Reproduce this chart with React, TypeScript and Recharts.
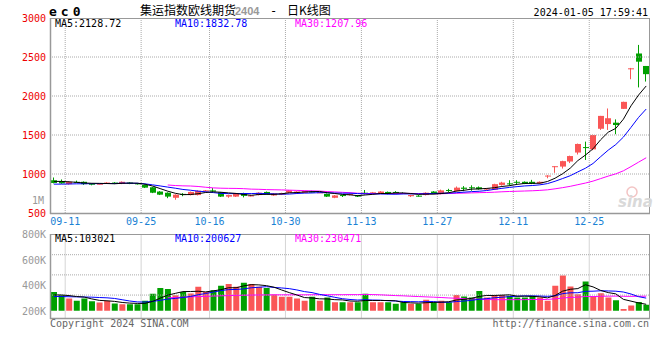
import React from 'react';
import { ComposedChart, Bar, Line, XAxis, YAxis, ReferenceLine, Cell } from 'recharts';

const dates = [
  '09-08', '09-11', '09-12', '09-13', '09-14', '09-15', '09-18', '09-19', '09-20', '09-21',
  '09-22', '09-25', '09-26', '09-27', '09-28', '10-09', '10-10', '10-11', '10-12', '10-13',
  '10-16', '10-17', '10-18', '10-19', '10-20', '10-23', '10-24', '10-25', '10-26', '10-27',
  '10-30', '10-31', '11-01', '11-02', '11-03', '11-06', '11-07', '11-08', '11-09', '11-10',
  '11-13', '11-14', '11-15', '11-16', '11-17', '11-20', '11-21', '11-22', '11-23', '11-24',
  '11-27', '11-28', '11-29', '11-30', '12-01', '12-04', '12-05', '12-06', '12-07', '12-08',
  '12-11', '12-12', '12-13', '12-14', '12-15', '12-18', '12-19', '12-20', '12-21', '12-22',
  '12-25', '12-26', '12-27', '12-28', '12-29', '01-02', '01-03', '01-04', '01-05',
];

const opens = [
  920, 910, 870, 900, 900, 875, 868, 880, 890, 875,
  890, 880, 860, 830, 775, 760, 695, 745, 730, 730,
  780, 790, 765, 710, 710, 755, 718, 730, 770, 725,
  735, 760, 755, 760, 775, 762, 745, 695, 730, 730,
  725, 760, 755, 750, 770, 770, 757, 715, 722, 730,
  775, 745, 795, 780, 825, 830, 830, 800, 800, 860,
  880, 900, 900, 900, 880, 975, 1090, 1095, 1160, 1275,
  1345, 1316, 1580, 1640, 1658, 1835, 2345, 2545, 2385,
];

const highs = [
  955, 930, 905, 915, 905, 880, 882, 895, 895, 905,
  895, 885, 865, 835, 780, 765, 740, 755, 775, 790,
  795, 820, 770, 735, 755, 760, 732, 765, 775, 755,
  760, 795, 780, 785, 785, 775, 750, 730, 735, 750,
  730, 795, 770, 780, 775, 780, 765, 735, 730, 765,
  780, 800, 810, 840, 845, 855, 840, 820, 875, 900,
  920, 920, 905, 925, 905, 985, 1100, 1170, 1235, 1390,
  1415, 1505, 1745, 1840, 1700, 1927, 2360, 2655, 2385,
];

const lows = [
  880, 875, 865, 885, 860, 855, 865, 875, 870, 870,
  870, 865, 820, 755, 730, 690, 670, 715, 725, 725,
  775, 770, 705, 695, 705, 700, 712, 725, 735, 720,
  730, 755, 750, 755, 765, 755, 705, 690, 705, 725,
  705, 740, 750, 745, 740, 740, 750, 705, 710, 725,
  740, 740, 765, 775, 780, 785, 800, 795, 795, 850,
  850, 870, 870, 870, 875, 945, 1015, 1070, 1140, 1250,
  1180, 1305, 1565, 1565, 1510, 1833, 2215, 2110, 2185,
];

const closes = [
  885, 880, 900, 890, 870, 865, 875, 890, 875, 900,
  875, 870, 825, 760, 735, 710, 735, 735, 770, 785,
  790, 775, 710, 730, 750, 720, 725, 760, 740, 750,
  755, 790, 775, 780, 770, 765, 710, 725, 720, 745,
  710, 755, 765, 775, 745, 745, 755, 730, 720, 760,
  745, 790, 785, 825, 810, 820, 805, 815, 870, 890,
  870, 890, 875, 875, 900, 980, 1100, 1165, 1230, 1385,
  1335, 1500, 1745, 1715, 1628, 1925, 2355, 2440, 2280,
];

const ma5 = [
  905, 905, 900, 893, 885, 881, 880, 878, 875, 881,
  883, 882, 869, 846, 813, 780, 753, 735, 737, 747,
  763, 771, 766, 758, 751, 737, 727, 737, 739, 739,
  746, 759, 762, 770, 774, 776, 760, 750, 738, 733,
  722, 731, 739, 750, 750, 757, 757, 750, 739, 742,
  742, 749, 760, 781, 791, 806, 809, 815, 824, 840,
  850, 867, 879, 880, 882, 904, 946, 1004, 1075, 1172,
  1243, 1323, 1439, 1536, 1585, 1703, 1874, 2013, 2128.72,
];

const ma10 = [
  870, 870, 872, 874, 875, 876, 877, 878, 878, 883,
  882, 881, 874, 861, 847, 832, 818, 802, 792, 780,
  772, 762, 751, 748, 749, 750, 749, 752, 749, 745,
  742, 743, 750, 755, 757, 761, 760, 756, 754, 754,
  749, 746, 745, 744, 742, 740, 744, 745, 745, 746,
  750, 753, 755, 760, 767, 774, 779, 788, 803, 816,
  828, 838, 847, 852, 861, 877, 907, 942, 978, 1027,
  1074, 1135, 1222, 1306, 1378, 1473, 1598, 1726, 1832.78,
];

const ma30 = [
  null, null, null, null, null, null, null, null, null, null,
  null, null, null, null, null, 859, 852, 848, 846, 840,
  830, 822, 818, 816, 815, 812, 806, 804, 800, 798,
  796, 793, 790, 787, 784, 781, 775, 770, 765, 760,
  754, 750, 748, 749, 749, 750, 751, 751, 749, 748,
  747, 747, 750, 753, 755, 758, 761, 763, 767, 772,
  776, 779, 782, 785, 790, 797, 810, 825, 842, 863,
  884, 909, 941, 973, 1002, 1041, 1095, 1152, 1207.96,
];

const volumes = [
  298000, 246000, 193000, 157000, 193000, 152000, 130000, 157000, 115000, 105000,
  105000, 105000, 157000, 267000, 361000, 345000, 246000, 298000, 272000, 377000,
  298000, 325000, 393000, 424000, 377000, 440000, 424000, 377000, 361000, 256000,
  220000, 220000, 193000, 157000, 220000, 157000, 209000, 137000, 137000, 137000,
  137000, 267000, 137000, 137000, 137000, 110000, 137000, 110000, 110000, 173000,
  137000, 157000, 137000, 251000, 225000, 209000, 314000, 209000, 251000, 251000,
  236000, 209000, 209000, 236000, 209000, 157000, 393000, 554000, 382000, 262000,
  460000, 225000, 278000, 209000, 165000, 28000, 85000, 140000, 97000,
];

const volMa5 = [
  250000, 250000, 240000, 225000, 217000, 188000, 165000, 158000, 149000, 132000,
  122000, 117000, 117000, 148000, 199000, 247000, 275000, 303000, 304000, 308000,
  298000, 314000, 333000, 363000, 363000, 392000, 412000, 408000, 396000, 372000,
  328000, 287000, 250000, 209000, 202000, 189000, 187000, 176000, 172000, 155000,
  151000, 163000, 163000, 163000, 163000, 158000, 132000, 126000, 121000, 128000,
  133000, 137000, 143000, 171000, 181000, 196000, 227000, 242000, 242000, 247000,
  252000, 231000, 231000, 228000, 220000, 204000, 241000, 310000, 339000, 350000,
  410000, 377000, 321000, 287000, 267000, 181000, 153000, 125000, 103021,
];

const volMa10 = [
  225000, 225000, 222000, 220000, 218000, 215000, 210000, 205000, 195000, 175000,
  155000, 141000, 138000, 149000, 165000, 185000, 196000, 210000, 226000, 253000,
  273000, 295000, 318000, 334000, 336000, 345000, 363000, 371000, 380000, 368000,
  360000, 349000, 329000, 303000, 287000, 259000, 237000, 213000, 191000, 179000,
  170000, 175000, 170000, 168000, 159000, 155000, 147000, 145000, 142000, 146000,
  146000, 135000, 135000, 146000, 155000, 165000, 182000, 192000, 206000, 214000,
  224000, 229000, 236000, 235000, 233000, 228000, 236000, 271000, 284000, 285000,
  307000, 309000, 316000, 313000, 309000, 296000, 265000, 223000, 200627,
];

const volMa30 = [
  null, null, null, null, null, null, null, null, null, null,
  null, null, null, null, null, 205000, 210000, 215000, 220000, 224000,
  228000, 232000, 236000, 240000, 243000, 246000, 248000, 250000, 251000, 252000,
  252000, 252000, 252000, 252000, 253000, 253000, 254000, 254000, 254000, 255000,
  255000, 258000, 256000, 252000, 246000, 240000, 236000, 230000, 225000, 220000,
  215000, 210000, 203000, 198000, 194000, 188000, 184000, 179000, 176000, 175000,
  176000, 176000, 176000, 179000, 179000, 180000, 189000, 202000, 211000, 215000,
  226000, 224000, 229000, 231000, 232000, 229000, 228000, 229000, 230471,
];

const dateTicks = ['09-11', '09-25', '10-16', '10-30', '11-13', '11-27', '12-11', '12-25'];
const priceTicks = [500, 1000, 1500, 2000, 2500, 3000];
const priceGrid = [1000, 1500, 2000, 2500];
const volTicks = [200000, 400000, 600000, 800000];
const volGrid = [1, 2, 3];

const MONO = '"DejaVu Sans Mono", monospace';
const CJK = '"Noto Sans CJK SC", sans-serif';
const UP = '#fa5656';
const DOWN = '#00a000';
const GRID = '#aaa';
const BORDER = '#999';

const rows = dates.map((date, i) => ({
  date,
  open: opens[i],
  high: highs[i],
  low: lows[i],
  close: closes[i],
  ma5: ma5[i],
  ma10: ma10[i],
  ma30: ma30[i],
  vol: volumes[i],
  vma5: volMa5[i],
  vma10: volMa10[i],
  vma30: volMa30[i],
}));

// body + wick, positioned inside the [low, high] bar the library hands us
const Candle = (props: any) => {
  const { x, y, width, height, payload } = props;
  if (!payload) return null;
  const { open, close, high, low } = payload;
  const color = close >= open ? UP : DOWN;
  const span = high - low;
  const py = (v: number) => (span === 0 ? y : y + ((high - v) / span) * height);
  const cx = Math.round(x + width / 2) - 0.5;
  const top = py(Math.max(open, close));
  const bodyH = Math.max(1, py(Math.min(open, close)) - top);
  return (
    <g>
      <line x1={cx} x2={cx} y1={y} y2={y + height} stroke={color} strokeWidth={1} />
      <rect x={Math.round(x)} y={top} width={width} height={bodyH} fill={color} />
    </g>
  );
};

const DateTick = (props: any) => {
  const { x, y, payload } = props;
  const off = payload && payload.offset ? payload.offset : 0;
  return (
    <text x={x + off} y={y + 12} textAnchor="middle" fill="#1a82d4" fontSize={10} fontFamily={MONO}>
      {payload.value}
    </text>
  );
};

const Overlay = () => (
  <svg width={660} height={360} style={{ position: 'absolute', left: 0, top: 0, pointerEvents: 'none' }}>
    {/* panel frames */}
    <line x1={50} x2={650} y1={18.5} y2={18.5} stroke={BORDER} />
    <line x1={649.5} x2={649.5} y1={18} y2={214} stroke={BORDER} />
    <line x1={50.5} x2={50.5} y1={18} y2={214} stroke={BORDER} strokeWidth={1.5} />
    <line x1={50} x2={650} y1={213.5} y2={213.5} stroke={BORDER} strokeWidth={1.5} />
    <line x1={50} x2={650} y1={234.5} y2={234.5} stroke={BORDER} />
    <line x1={649.5} x2={649.5} y1={234} y2={319} stroke={BORDER} />
    <line x1={50.5} x2={50.5} y1={234} y2={319} stroke={BORDER} strokeWidth={1.5} />
    <line x1={50} x2={650} y1={318.5} y2={318.5} stroke={BORDER} strokeWidth={1.5} />

    <text x={49} y={16} fontFamily={MONO} fontWeight="bold" fontSize={13} letterSpacing={4}>ec0</text>
    <text x={140} y={15} fontFamily={CJK} fontSize={12}>集运指数欧线期货</text>
    <text x={235} y={14.5} fontFamily='"Liberation Sans", sans-serif' fontWeight="bold" fontSize={11} fill="#999">2404</text>
    <text x={270} y={15} fontFamily={MONO} fontSize={12}>-</text>
    <text x={287} y={15} fontFamily={CJK} fontSize={12}>日K线图</text>
    <text x={648} y={16} textAnchor="end" fontFamily={MONO} fontSize={10}>2024-01-05 17:59:41</text>

    <text x={55} y={27} fontFamily={MONO} fontSize={10} fill="#000">MA5:2128.72</text>
    <text x={175} y={27} fontFamily={MONO} fontSize={10} fill="#0000ff">MA10:1832.78</text>
    <text x={295} y={27} fontFamily={MONO} fontSize={10} fill="#ff00ff">MA30:1207.96</text>

    <text x={44} y={203.5} textAnchor="end" fontFamily={MONO} fontSize={10} fill="#999">1M</text>

    <text x={55} y={242} fontFamily={MONO} fontSize={10} fill="#000">MA5:103021</text>
    <text x={175} y={242} fontFamily={MONO} fontSize={10} fill="#0000ff">MA10:200627</text>
    <text x={295} y={242} fontFamily={MONO} fontSize={10} fill="#ff00ff">MA30:230471</text>

    <text x={50} y={327} fontFamily={MONO} fontSize={10} fill="#666">Copyright 2024 SINA.COM</text>
    <text x={649} y={327} textAnchor="end" fontFamily={MONO} fontSize={10} fill="#666">http://finance.sina.com.cn</text>

    {/* faint sina watermark */}
    <circle cx={632} cy={192} r={5} fill="none" stroke="#f3c4c4" strokeWidth={1.5} />
    <text x={618} y={207} fontFamily='"DejaVu Sans", sans-serif' fontStyle="italic" fontWeight="bold" fontSize={15} fill="#d9d9d9">sina</text>
  </svg>
);

export default function App() {
  return (
    <div style={{ position: 'absolute', left: 0, top: 0, width: 660, height: 360, background: '#fff', overflow: 'hidden' }}>
      <div style={{ position: 'absolute', left: 0, top: 0 }}>
        <ComposedChart width={660} height={235} data={rows} margin={{ top: 18, right: 10, bottom: 2, left: 0 }}>
          <XAxis
            dataKey="date"
            height={20}
            ticks={dateTicks}
            interval={0}
            axisLine={false}
            tickLine={false}
            tickSize={0}
            tickMargin={0}
            tick={<DateTick />}
          />
          <YAxis
            domain={[500, 3000]}
            ticks={priceTicks}
            interval={0}
            width={50}
            allowDataOverflow
            axisLine={false}
            tickLine={false}
            tickSize={0}
            tickMargin={4}
            tick={{ fill: '#ee0000', fontSize: 10, fontFamily: MONO }}
          />
          {priceGrid.map((v) => (
            <ReferenceLine key={v} y={v} stroke={GRID} strokeDasharray="1 1" />
          ))}
          {dateTicks.map((d) => (
            <ReferenceLine key={d} x={d} position="end" stroke={GRID} strokeDasharray="1 1" />
          ))}
          <Bar dataKey={(r: any) => [r.low, r.high]} barSize={6} shape={<Candle />} isAnimationActive={false} />
          <Line dataKey="ma30" stroke="#ff00ff" strokeWidth={1} dot={false} isAnimationActive={false} />
          <Line dataKey="ma10" stroke="#0000ff" strokeWidth={1} dot={false} isAnimationActive={false} />
          <Line dataKey="ma5" stroke="#000000" strokeWidth={1} dot={false} isAnimationActive={false} />
        </ComposedChart>
      </div>

      <div style={{ position: 'absolute', left: 0, top: 226 }}>
        <ComposedChart width={660} height={94} data={rows} margin={{ top: 8.5, right: 10, bottom: 1.5, left: 0 }}>
          <XAxis dataKey="date" hide />
          <YAxis
            yAxisId="lbl"
            domain={[141200, 800000]}
            ticks={volTicks}
            interval={0}
            width={50}
            allowDataOverflow
            axisLine={false}
            tickLine={false}
            tickSize={0}
            tickMargin={4}
            tickFormatter={(v: number) => `${v / 1000}K`}
            tick={{ fill: '#999', fontSize: 10, fontFamily: MONO }}
          />
          <YAxis yAxisId="v" hide width={0} domain={[-120000, 1200000]} allowDataOverflow />
          <YAxis yAxisId="g" hide width={0} domain={[-0.16, 4]} allowDataOverflow />
          {volGrid.map((v) => (
            <ReferenceLine key={v} yAxisId="g" y={v} stroke={GRID} strokeDasharray="1 1" />
          ))}
          {dateTicks.map((d) => (
            <ReferenceLine key={d} yAxisId="g" x={d} position="end" stroke={GRID} strokeDasharray="1 1" />
          ))}
          <Bar yAxisId="v" dataKey="vol" barSize={6} isAnimationActive={false}>
            {rows.map((r, i) => (
              <Cell key={i} fill={r.close >= r.open ? UP : DOWN} />
            ))}
          </Bar>
          <Line yAxisId="v" dataKey="vma30" stroke="#ff00ff" strokeWidth={1} dot={false} isAnimationActive={false} />
          <Line yAxisId="v" dataKey="vma10" stroke="#0000ff" strokeWidth={1} dot={false} isAnimationActive={false} />
          <Line yAxisId="v" dataKey="vma5" stroke="#000000" strokeWidth={1} dot={false} isAnimationActive={false} />
        </ComposedChart>
      </div>

      <Overlay />
    </div>
  );
}
